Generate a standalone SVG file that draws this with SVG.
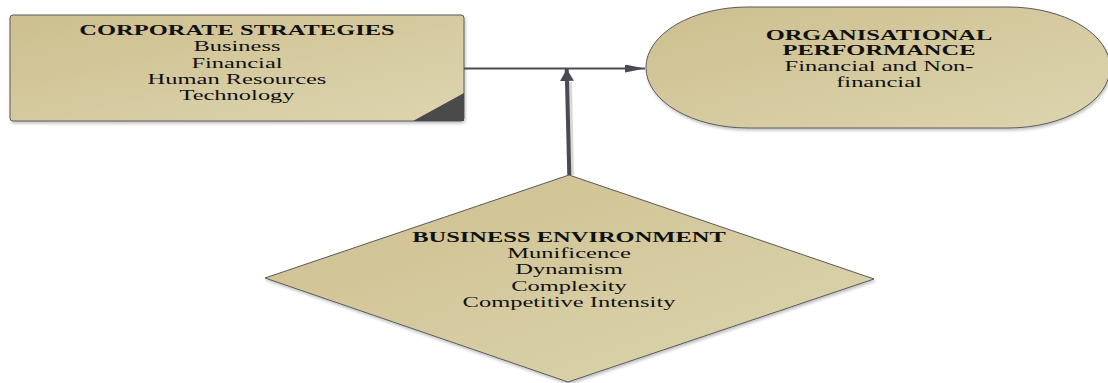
<svg xmlns="http://www.w3.org/2000/svg" width="1108" height="383" viewBox="0 0 1108 383">
<style>
.shape{fill:url(#tan);stroke:#5a5a5a;stroke-width:1}
.t{font-family:"Liberation Serif","Times New Roman",serif;font-size:14px;fill:#111;text-anchor:middle}
.b{font-weight:bold}
.conn{stroke:#4a4a55;fill:none}
</style>
<defs>
<linearGradient id="tan" x1="0" y1="0" x2="1" y2="1">
<stop offset="0" stop-color="#cdbf8e"/>
<stop offset="1" stop-color="#ddd5b0"/>
</linearGradient>
<filter id="sh" x="-5%" y="-5%" width="110%" height="115%">
<feDropShadow dx="1" dy="2" stdDeviation="1.5" flood-color="#000" flood-opacity="0.25"/>
</filter>
<marker id="ah" viewBox="0 0 20 8" refX="20" refY="4" markerWidth="20" markerHeight="8" markerUnits="userSpaceOnUse" orient="auto">
<path d="M0,0 L20,4 L0,8 Z" fill="#4a4a55"/>
</marker>
<marker id="ah2" viewBox="0 0 12 14" refX="12" refY="7" markerWidth="12" markerHeight="14" markerUnits="userSpaceOnUse" orient="auto">
<path d="M0,0 L12,7 L0,14 Z" fill="#4a4a55"/>
</marker>
</defs>

<g id="node-corporate">
<rect class="shape" x="10" y="15" width="454" height="106" rx="3" ry="3" filter="url(#sh)"/>
<path d="M413,121 L464,121 L464,93 Z" fill="#4a4a4a"/>
<g transform="translate(237 0) scale(1.75 1)">
<text class="t b" x="0" y="35">CORPORATE STRATEGIES</text>
<text class="t" x="0" y="51.3">Business</text>
<text class="t" x="0" y="67.6">Financial</text>
<text class="t" x="0" y="83.9">Human Resources</text>
<text class="t" x="0" y="100.2">Technology</text>
</g>
</g>

<g id="node-performance">
<rect class="shape" x="646" y="7" width="464" height="121" rx="102" ry="60.5" filter="url(#sh)"/>
<g transform="translate(879 0) scale(1.75 1)">
<text class="t b" x="0" y="40">ORGANISATIONAL</text>
<text class="t b" x="0" y="55.5">PERFORMANCE</text>
<text class="t" x="0" y="71.5">Financial and Non-</text>
<text class="t" x="0" y="87">financial</text>
</g>
</g>

<g id="node-environment">
<path class="shape" d="M569,175 L874,279 L568,382 L265,278 Z" filter="url(#sh)"/>
<g transform="translate(569 0) scale(1.75 1)">
<text class="t b" x="0" y="241.7">BUSINESS ENVIRONMENT</text>
<text class="t" x="0" y="258">Munificence</text>
<text class="t" x="0" y="274.3">Dynamism</text>
<text class="t" x="0" y="290.6">Complexity</text>
<text class="t" x="0" y="306.9">Competitive Intensity</text>
</g>
</g>

<g id="connectors">
<line class="conn" x1="464" y1="68.5" x2="645" y2="68.5" stroke-width="2.2" marker-end="url(#ah)"/>
<line x1="572" y1="175" x2="570" y2="82" stroke="#000" stroke-opacity="0.15" stroke-width="4"/>
<line class="conn" x1="569.3" y1="175" x2="566.7" y2="69" stroke-width="4" marker-end="url(#ah2)"/>
</g>
</svg>
